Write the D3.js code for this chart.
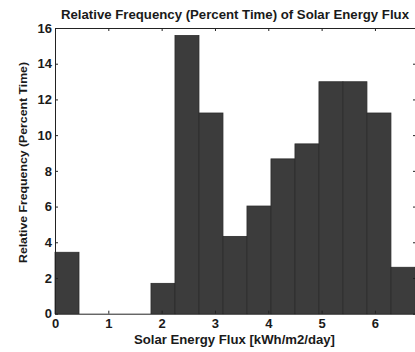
<!DOCTYPE html>
<html>
<head>
<meta charset="utf-8">
<script src="https://cdn.jsdelivr.net/npm/d3@7"></script>
<style>
body { margin: 0; background: #fff; }
text { font-family: "Liberation Sans", Arial, sans-serif; font-weight: bold; fill: #1a1a1a; }
</style>
</head>
<body>
<div class="chart_container"></div>
<script>
var width = 415
var height = 352

// 15 bins of 0.45 kWh/m2/day, percent time per bin
var binStarts = [0, 0.45, 0.9, 1.35, 1.8, 2.25, 2.7, 3.15, 3.6, 4.05, 4.5, 4.95, 5.4, 5.85, 6.3]
var binWidth = 0.45
var percents = [3.44, 0, 0, 0, 1.70, 15.58, 11.24, 4.33, 6.03, 8.67, 9.51, 12.99, 12.99, 11.24, 2.60]
var xTicks = [0, 1, 2, 3, 4, 5, 6]
var yTicks = [0, 2, 4, 6, 8, 10, 12, 14, 16]

var svg = d3.select(".chart_container").append("svg")
  .attr("width", width)
  .attr("height", height)

var scaleX = d3.scaleLinear()
  .domain([0, 6.77])
  .range([55, 416])

var scaleY = d3.scaleLinear()
  .domain([0, 16])
  .range([313.7, 28])

var bars = d3.range(binStarts.length).map(function (i) {
  return {x0: binStarts[i], x1: binStarts[i] + binWidth, v: percents[i]}
})

svg.selectAll("rect.bar")
  .data(bars)
  .enter()
  .append("rect")
  .attr("class", "bar")
  .attr("x", function (d) { return scaleX(d.x0) })
  .attr("y", function (d) { return scaleY(d.v) })
  .attr("width", function (d) { return scaleX(d.x1) - scaleX(d.x0) })
  .attr("height", function (d) { return scaleY(0) - scaleY(d.v) })
  .style("fill", "#3c3c3c")
  .style("stroke", "#2c2c2c")
  .style("stroke-width", 0.8)

// box with inward ticks
var axisBottom = d3.axisBottom(scaleX).tickValues(xTicks)
  .tickSizeInner(-3).tickSizeOuter(0).tickPadding(5)
  .tickFormat(d3.format("d"))
var axisTop = d3.axisTop(scaleX).tickValues(xTicks)
  .tickSizeInner(-3).tickSizeOuter(0).tickFormat("")
var axisLeft = d3.axisLeft(scaleY).tickValues(yTicks)
  .tickSizeInner(-3).tickSizeOuter(0).tickPadding(3)
  .tickFormat(d3.format("d"))
var axisRight = d3.axisRight(scaleY).tickValues(yTicks)
  .tickSizeInner(-3).tickSizeOuter(0).tickFormat("")

svg.append("g")
  .attr("transform", "translate(0," + scaleY(0) + ")")
  .call(axisBottom)
svg.append("g")
  .attr("transform", "translate(0," + scaleY(16) + ")")
  .call(axisTop)
svg.append("g")
  .attr("transform", "translate(" + scaleX(0) + ",0)")
  .call(axisLeft)
svg.append("g")
  .attr("transform", "translate(" + scaleX(6.77) + ",0)")
  .call(axisRight)

svg.selectAll(".domain").style("stroke", "#222")
svg.selectAll(".tick line").style("stroke", "#222")
svg.selectAll(".tick text")
  .style("font-size", "13px")
  .style("font-family", "'Liberation Sans', Arial, sans-serif")
  .style("font-weight", "bold")
  .style("fill", "#1a1a1a")

svg.append("text")
  .attr("x", 235)
  .attr("y", 18.5)
  .attr("textLength", 348)
  .attr("lengthAdjust", "spacingAndGlyphs")
  .style("text-anchor", "middle")
  .style("font-size", "12px")
  .text("Relative Frequency (Percent Time) of Solar Energy Flux")

svg.append("text")
  .attr("x", 234.5)
  .attr("y", 344)
  .attr("textLength", 201)
  .attr("lengthAdjust", "spacingAndGlyphs")
  .style("text-anchor", "middle")
  .style("font-size", "12.5px")
  .text("Solar Energy Flux [kWh/m2/day]")

svg.append("text")
  .attr("transform", "translate(27,162.5) rotate(-90)")
  .attr("textLength", 201)
  .attr("lengthAdjust", "spacingAndGlyphs")
  .style("text-anchor", "middle")
  .style("font-size", "11.5px")
  .text("Relative Frequency (Percent Time)")
</script>
</body>
</html>
